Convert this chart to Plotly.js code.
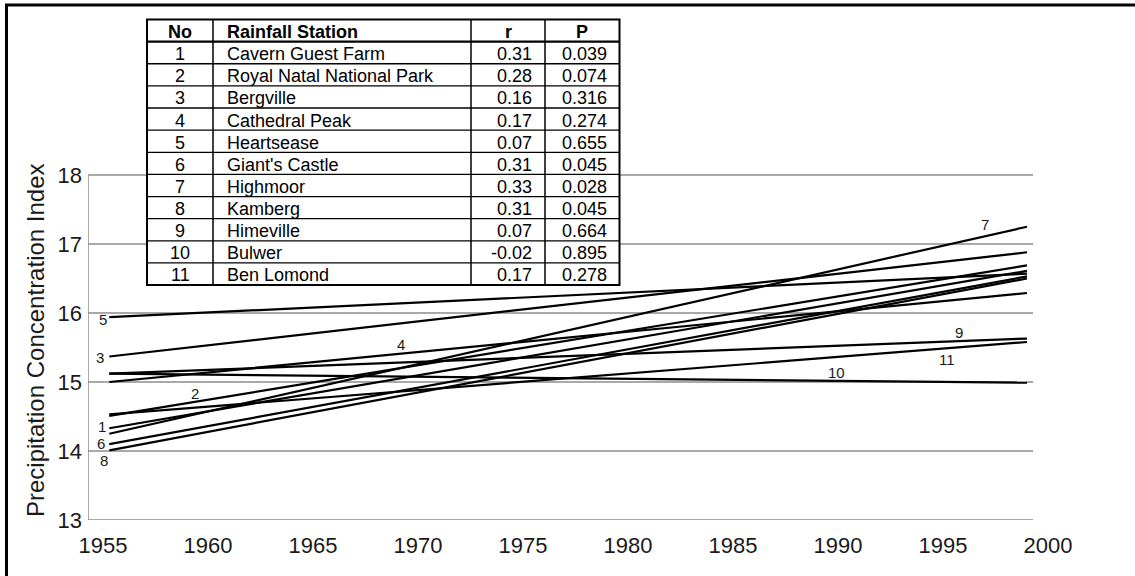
<!DOCTYPE html>
<html>
<head>
<meta charset="utf-8">
<script src="https://cdn.plot.ly/plotly-3.0.1.min.js"></script>
<style>
html, body { margin: 0; padding: 0; background: #ffffff; overflow: hidden; }
#chart { width: 1135px; height: 576px; }
</style>
</head>
<body>
<div id="chart"></div>
<script>
// ---------------- DATA ----------------
const stationNo = [1, 2, 3, 4, 5, 6, 7, 8, 9, 10, 11];
const stationNames = [
  "Cavern Guest Farm", "Royal Natal National Park", "Bergville", "Cathedral Peak",
  "Heartsease", "Giant's Castle", "Highmoor", "Kamberg", "Himeville", "Bulwer", "Ben Lomond"
];
const rValues = [0.31, 0.28, 0.16, 0.17, 0.07, 0.31, 0.33, 0.31, 0.07, -0.02, 0.17];
const pValues = [0.039, 0.074, 0.316, 0.274, 0.655, 0.045, 0.028, 0.045, 0.664, 0.895, 0.278];
const tableHeader = ["No", "Rainfall Station", "r", "P"];

// trend line end points (PCI) for each station, first and last year
const trendYears = [1955.3, 1999];
const trendStart = [14.33, 14.51, 15.37, 15.00, 15.94, 14.10, 14.25, 14.01, 15.12, 15.12, 14.53];
const trendEnd   = [16.61, 16.69, 16.88, 16.29, 16.57, 16.53, 17.25, 16.50, 15.63, 14.99, 15.58];

const xTickYears = [1955, 1960, 1965, 1970, 1975, 1980, 1985, 1990, 1995, 2000];
const yTicks = [13, 14, 15, 16, 17, 18];
const yTitle = "Precipitation Concentration Index";

// ---------------- LAYOUT HELPERS ----------------
const FONT = 'Arial, "Liberation Sans", Helvetica, sans-serif';
const W = 1135, H = 576;
const M = { l: 88, r: 55, t: 10, b: 56 };
const plotW = W - M.l - M.r, plotH = H - M.t - M.b;
const xLo = 1954.286, pxPerYear = 21;
const xHi = xLo + plotW / pxPerYear;
const yLo = 13, pxPerUnit = 69;
const yHi = yLo + plotH / pxPerUnit;
const gridEnd = 1999.286;
const px2paperX = px => (px - M.l) / plotW;
const py2paperY = py => (H - M.b - py) / plotH;

// label placement (data coordinates) for each numbered trend line
const labelPos = {
  1: [1954.95, 14.36], 2: [1959.38, 14.83], 3: [1954.86, 15.36], 4: [1969.19, 15.54],
  5: [1955.0, 15.91], 6: [1954.9, 14.11], 7: [1997.0, 17.28], 8: [1955.05, 13.86],
  9: [1995.76, 15.72], 10: [1989.95, 15.14], 11: [1995.19, 15.33]
};

// table geometry (pixels)
const tblLeft = 147, tblRight = 619.5, tblTop = 19.5, rowH = 22.13;
const colEdges = [147, 213, 471, 545, 619.5];
const nRows = stationNo.length + 1;
const tblBottom = tblTop + nRows * rowH;

// ---------------- TRACES ----------------
const traces = [];
stationNo.forEach((no, i) => {
  traces.push({
    type: 'scatter', mode: 'lines',
    x: trendYears, y: [trendStart[i], trendEnd[i]],
    line: { color: '#000000', width: 2.2 },
    name: stationNames[i], showlegend: false, hoverinfo: 'skip'
  });
});

// ---------------- SHAPES ----------------
const shapes = [];
const GRID = '#8c8c8c';
yTicks.forEach(v => shapes.push({
  type: 'line', xref: 'x', yref: 'y', x0: xLo, x1: gridEnd, y0: v, y1: v,
  line: { color: GRID, width: 1.5 }, layer: 'below'
}));
shapes.push({
  type: 'line', xref: 'x', yref: 'y', x0: xLo, x1: xLo, y0: 13, y1: 18,
  line: { color: GRID, width: 1.5 }, layer: 'below'
});
// white surround of the table
shapes.push({
  type: 'rect', xref: 'paper', yref: 'paper',
  x0: px2paperX(134), x1: px2paperX(628), y0: py2paperY(292), y1: py2paperY(12),
  fillcolor: '#ffffff', line: { width: 0 }, layer: 'below'
});
// table: background, row rules, column rules, outer border
shapes.push({
  type: 'rect', xref: 'paper', yref: 'paper',
  x0: px2paperX(tblLeft), x1: px2paperX(tblRight), y0: py2paperY(tblBottom), y1: py2paperY(tblTop),
  fillcolor: '#ffffff', line: { color: '#000000', width: 2 }, layer: 'above'
});
for (let i = 1; i < nRows; i++) {
  const yy = py2paperY(tblTop + i * rowH);
  shapes.push({
    type: 'line', xref: 'paper', yref: 'paper',
    x0: px2paperX(tblLeft), x1: px2paperX(tblRight), y0: yy, y1: yy,
    line: { color: '#000000', width: i === 1 ? 2.2 : 1.3 }, layer: 'above'
  });
}
colEdges.slice(1, -1).forEach(cx => shapes.push({
  type: 'line', xref: 'paper', yref: 'paper',
  x0: px2paperX(cx), x1: px2paperX(cx), y0: py2paperY(tblBottom), y1: py2paperY(tblTop),
  line: { color: '#000000', width: 1.5 }, layer: 'above'
}));
// outer frame: only its top and left edges fall inside the picture
shapes.push({
  type: 'rect', xref: 'paper', yref: 'paper',
  x0: px2paperX(6.5), x1: px2paperX(1180), y0: py2paperY(640), y1: py2paperY(5),
  fillcolor: 'rgba(0,0,0,0)', line: { color: '#000000', width: 3 }, layer: 'above'
});

// ---------------- ANNOTATIONS ----------------
const annotations = stationNo.map(no => ({
  x: labelPos[no][0], y: labelPos[no][1], xref: 'x', yref: 'y',
  text: String(no), showarrow: false,
  font: { family: FONT, size: 15, color: '#1a1a1a' },
  xanchor: 'center', yanchor: 'middle'
}));

// y-axis title, centred on the 13–18 span
annotations.push({
  x: px2paperX(36), y: py2paperY(340), xref: 'paper', yref: 'paper',
  text: yTitle, textangle: -90, showarrow: false,
  font: { family: FONT, size: 24, color: '#1a1a1a' },
  xanchor: 'center', yanchor: 'middle'
});

// table cell texts
const TFONT = { family: FONT, size: 18, color: '#000000' };
const cellAnchor = [
  { x: (colEdges[0] + colEdges[1]) / 2, a: 'center' },
  { x: colEdges[1] + 12, a: 'left' },
  { x: colEdges[3] - 11, a: 'right' },
  { x: colEdges[4] - 11, a: 'right' }
];
const headerAnchor = [
  { x: (colEdges[0] + colEdges[1]) / 2, a: 'center' },
  { x: colEdges[1] + 12, a: 'left' },
  { x: (colEdges[2] + colEdges[3]) / 2, a: 'center' },
  { x: (colEdges[3] + colEdges[4]) / 2, a: 'center' }
];
const cellText = (text, col, row, anchors, bold) => ({
  x: px2paperX(anchors[col].x), y: py2paperY(tblTop + row * rowH + rowH / 2 + 1.5),
  xref: 'paper', yref: 'paper', showarrow: false,
  text: bold ? '<b>' + text + '</b>' : text,
  xanchor: anchors[col].a, yanchor: 'middle', font: TFONT
});
tableHeader.forEach((h, c) => annotations.push(cellText(h, c, 0, headerAnchor, true)));
stationNo.forEach((no, i) => {
  const row = [String(no), stationNames[i], rValues[i].toFixed(2), pValues[i].toFixed(3)];
  row.forEach((t, c) => annotations.push(cellText(t, c, i + 1, cellAnchor, false)));
});

const layout = {
  width: W, height: H,
  margin: M,
  paper_bgcolor: '#ffffff', plot_bgcolor: 'rgba(0,0,0,0)',
  showlegend: false,
  xaxis: {
    range: [xLo, xHi], tickvals: xTickYears, ticktext: xTickYears.map(String),
    showgrid: false, zeroline: false, showline: false, ticks: '',
    tickfont: { family: FONT, size: 22, color: '#1a1a1a' },
    ticklabelstandoff: 10, fixedrange: true
  },
  yaxis: {
    range: [yLo, yHi], tickvals: yTicks, ticktext: yTicks.map(String),
    showgrid: false, zeroline: false, showline: false, ticks: '',
    tickfont: { family: FONT, size: 22, color: '#1a1a1a' },
    ticklabelstandoff: 5, fixedrange: true
  },
  shapes: shapes,
  annotations: annotations
};

Plotly.newPlot('chart', traces, layout, { displayModeBar: false, staticPlot: true });
</script>
</body>
</html>
